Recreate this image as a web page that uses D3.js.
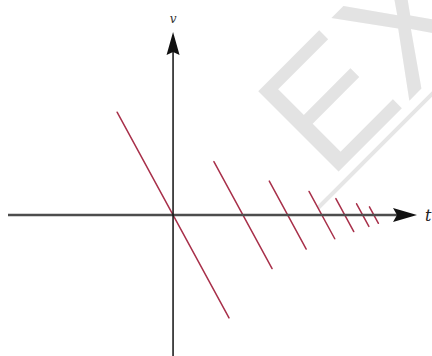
<!DOCTYPE html>
<html>
<head>
<meta charset="utf-8">
<script src="https://cdn.jsdelivr.net/npm/d3@7"></script>
<style>
  html, body { margin: 0; padding: 0; background: #fff; overflow: hidden; }
</style>
</head>
<body>
<div id="chart"></div>
<script>
// segments of velocity v against time t, each one straight, crossing v = 0
const tStart = [-1, 0.73, 1.72, 2.43, 2.91, 3.28, 3.51];
const tEnd   = [ 1, 1.77, 2.38, 2.89, 3.23, 3.50, 3.67];
const vStart = [ 1, 0.52, 0.33, 0.23, 0.16, 0.11, 0.08];
const vEnd   = [-1, -0.52, -0.33, -0.23, -0.16, -0.11, -0.08];

const tDomain = [-2.95, 4.36];
const vDomain = [-1.37, 1.78];

const xLabel = "t";
const yLabel = "v";
const watermark = "EX";

const width = 432, height = 356;

const svg = d3.select("#chart")
    .append("svg")
    .attr("width", width)
    .attr("height", height);

const x = d3.scaleLinear()
    .domain(tDomain)
    .range([8, 417]);

const y = d3.scaleLinear()
    .domain(vDomain)
    .range([356, 32]);

// faint watermark behind everything
svg.append("text")
    .attr("transform", "translate(329,181) rotate(-45)")
    .attr("font-family", "Liberation Sans, Arial, sans-serif")
    .attr("font-size", 165)
    .attr("fill", "#e3e3e3")
    .text(watermark);

svg.append("line")
    .attr("x1", 318).attr("y1", 208)
    .attr("x2", 440).attr("y2", 86)
    .attr("stroke", "#e6e6e6")
    .attr("stroke-width", 4);

// the segments
const segs = tStart.map((t, i) => ({t0: t, t1: tEnd[i], v0: vStart[i], v1: vEnd[i]}));

svg.append("g")
    .selectAll("line")
    .data(segs)
    .join("line")
    .attr("x1", d => x(d.t0))
    .attr("y1", d => y(d.v0))
    .attr("x2", d => x(d.t1))
    .attr("y2", d => y(d.v1))
    .attr("stroke", "#a8304a")
    .attr("stroke-width", 1.5)
    .attr("stroke-linecap", "round");

// axes
const x0 = x(0), y0 = y(0);
const xEnd = x(tDomain[1]), yTop = y(vDomain[1]);

svg.append("line")
    .attr("x1", x(tDomain[0])).attr("y1", y0)
    .attr("x2", xEnd - 10).attr("y2", y0)
    .attr("stroke", "#4d4d4d")
    .attr("stroke-width", 2.5);

svg.append("line")
    .attr("x1", x0).attr("y1", y(vDomain[0]))
    .attr("x2", x0).attr("y2", yTop + 10)
    .attr("stroke", "#111")
    .attr("stroke-width", 1.5);

// arrow heads
svg.append("path")
    .attr("d", `M${xEnd},${y0} L${xEnd - 24},${y0 - 7} L${xEnd - 20},${y0} L${xEnd - 24},${y0 + 7} Z`)
    .attr("fill", "#111");

svg.append("path")
    .attr("d", `M${x0},${yTop} L${x0 - 6.5},${yTop + 23} L${x0},${yTop + 20} L${x0 + 6.5},${yTop + 23} Z`)
    .attr("fill", "#111");

// axis labels
svg.append("text")
    .attr("x", xEnd + 8)
    .attr("y", y0 + 6)
    .attr("font-family", "DejaVu Serif, serif")
    .attr("font-style", "italic")
    .attr("font-size", 16)
    .attr("fill", "#222")
    .text(xLabel);

svg.append("text")
    .attr("x", x0)
    .attr("y", 23)
    .attr("text-anchor", "middle")
    .attr("font-family", "DejaVu Serif, serif")
    .attr("font-style", "italic")
    .attr("font-size", 12)
    .attr("fill", "#333")
    .text(yLabel);
</script>
</body>
</html>
